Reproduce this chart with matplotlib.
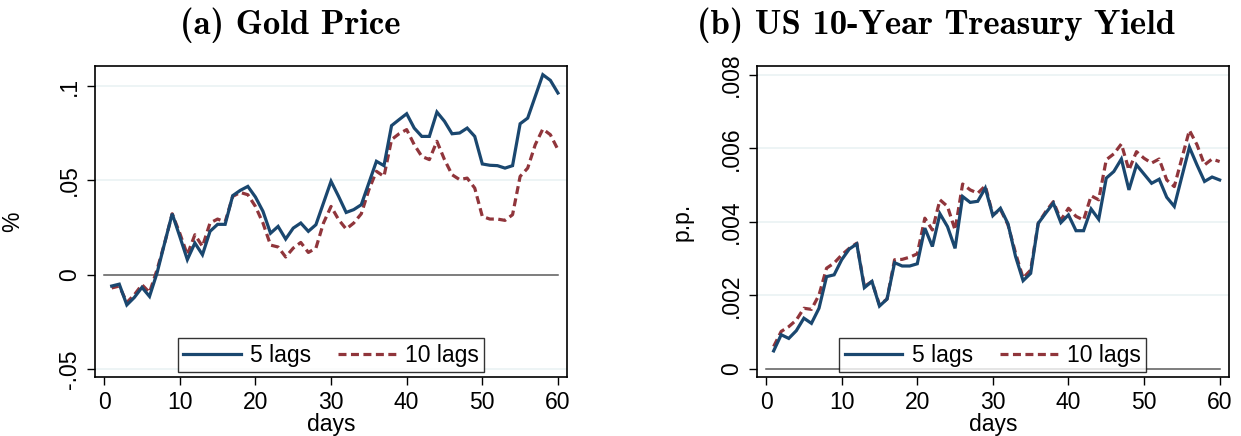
import matplotlib
matplotlib.use("Agg")
import matplotlib.pyplot as plt
from matplotlib.ticker import FuncFormatter, FixedLocator

# Impulse responses over a 60-day horizon
days = list(range(1, 61))

gold_5lags = [
    -0.0060, -0.0050, -0.0160, -0.0120, -0.0067, -0.0115, 0.0010, 0.0168, 0.0323, 0.0203,
    0.0080, 0.0168, 0.0106, 0.0230, 0.0267, 0.0267, 0.0419, 0.0447, 0.0468, 0.0412,
    0.0336, 0.0220, 0.0256, 0.0189, 0.0247, 0.0274, 0.0230, 0.0265, 0.0380, 0.0495,
    0.0415, 0.0330, 0.0345, 0.0371, 0.0486, 0.0601, 0.0578, 0.0790, 0.0822, 0.0853,
    0.0777, 0.0733, 0.0733, 0.0862, 0.0813, 0.0747, 0.0751, 0.0777, 0.0733, 0.0587,
    0.0580, 0.0578, 0.0565, 0.0578, 0.0800, 0.0830, 0.0945, 0.1060, 0.1030, 0.0963,
]
gold_10lags = [
    -0.0070, -0.0060, -0.0147, -0.0106, -0.0053, -0.0094, 0.0027, 0.0168, 0.0323, 0.0220,
    0.0106, 0.0212, 0.0150, 0.0274, 0.0295, 0.0280, 0.0415, 0.0436, 0.0424, 0.0362,
    0.0274, 0.0157, 0.0147, 0.0094, 0.0141, 0.0171, 0.0118, 0.0141, 0.0274, 0.0362,
    0.0292, 0.0242, 0.0274, 0.0323, 0.0450, 0.0548, 0.0521, 0.0716, 0.0747, 0.0769,
    0.0689, 0.0627, 0.0610, 0.0707, 0.0610, 0.0530, 0.0504, 0.0512, 0.0459, 0.0309,
    0.0295, 0.0295, 0.0288, 0.0318, 0.0521, 0.0565, 0.0689, 0.0772, 0.0742, 0.0663,
]

yield_5lags = [
    0.00049, 0.00093, 0.00083, 0.00104, 0.00138, 0.00124, 0.00165, 0.00251, 0.00256, 0.00297,
    0.00326, 0.00340, 0.00221, 0.00238, 0.00171, 0.00190, 0.00289, 0.00280, 0.00280, 0.00286,
    0.00383, 0.00333, 0.00422, 0.00387, 0.00328, 0.00469, 0.00453, 0.00456, 0.00492, 0.00417,
    0.00437, 0.00395, 0.00306, 0.00240, 0.00260, 0.00396, 0.00424, 0.00451, 0.00398, 0.00419,
    0.00376, 0.00376, 0.00435, 0.00407, 0.00519, 0.00537, 0.00571, 0.00487, 0.00555, 0.00530,
    0.00505, 0.00516, 0.00467, 0.00442, 0.00523, 0.00603, 0.00555, 0.00510, 0.00522, 0.00514,
]
yield_10lags = [
    0.00061, 0.00102, 0.00115, 0.00133, 0.00165, 0.00162, 0.00201, 0.00274, 0.00288, 0.00310,
    0.00328, 0.00342, 0.00224, 0.00238, 0.00174, 0.00190, 0.00297, 0.00298, 0.00304, 0.00313,
    0.00410, 0.00378, 0.00460, 0.00442, 0.00378, 0.00503, 0.00487, 0.00478, 0.00498, 0.00419,
    0.00434, 0.00392, 0.00315, 0.00247, 0.00269, 0.00396, 0.00428, 0.00455, 0.00405, 0.00437,
    0.00415, 0.00405, 0.00471, 0.00460, 0.00569, 0.00585, 0.00612, 0.00541, 0.00591, 0.00573,
    0.00560, 0.00571, 0.00514, 0.00496, 0.00573, 0.00649, 0.00610, 0.00555, 0.00571, 0.00564,
]

x_ticks = [0, 10, 20, 30, 40, 50, 60]
gold_yticks = [-0.05, 0, 0.05, 0.1]
yield_yticks = [0, 0.002, 0.004, 0.006, 0.008]
series_labels = ["5 lags", "10 lags"]
titles = ["(a) Gold Price", "(b) US 10-Year Treasury Yield"]
ylabels = ["%", "p.p."]

NAVY = "#1a476f"
MAROON = "#90353b"
GRID = "#eaf2f3"
SANS = ["Liberation Sans", "DejaVu Sans"]
FS = 16.5


def stata_num(v, _pos=None):
    """Format numbers without a leading zero, e.g. .05 and -.05."""
    if abs(v) < 1e-12:
        return "0"
    s = ("%.3f" % v).rstrip("0").rstrip(".")
    s = s.replace("0.", ".", 1) if s.startswith("0.") else s.replace("-0.", "-.", 1)
    return s


fig = plt.figure(figsize=(12.41, 4.36), dpi=100)
ax_l = fig.add_axes([0.0766, 0.1353, 0.3803, 0.7133])
ax_r = fig.add_axes([0.6100, 0.1353, 0.3801, 0.7133])

panels = [
    (ax_l, gold_5lags, gold_10lags, gold_yticks, (-0.0542, 0.1106), -0.150),
    (ax_r, yield_5lags, yield_10lags, yield_yticks, (-0.00022, 0.00824), -0.134),
]

for i, (ax, s5, s10, yt, ylim, ylab_x) in enumerate(panels):
    for yv in yt:
        if yv != 0:
            ax.axhline(yv, color=GRID, lw=1.2, zorder=0)
    ax.plot([0, 60], [0, 0], color="#5a5a5a", lw=1.1, zorder=1)
    ax.plot(days, s5, color=NAVY, lw=2.3, label=series_labels[0], zorder=3,
            solid_joinstyle="miter")
    ax.plot(days, s10, color=MAROON, lw=2.3, ls=(0, (2.5, 1.4)),
            label=series_labels[1], zorder=2)

    ax.set_xlim(-1.2, 61.2)
    ax.set_ylim(*ylim)
    ax.xaxis.set_major_locator(FixedLocator(x_ticks))
    ax.yaxis.set_major_locator(FixedLocator(yt))
    ax.yaxis.set_major_formatter(FuncFormatter(stata_num))
    ax.tick_params(axis="both", direction="out", length=6, width=1.0,
                   labelsize=FS, pad=4, color="black")
    for lab in ax.get_yticklabels():
        lab.set_rotation(90)
        lab.set_verticalalignment("center")
        lab.set_family(SANS)
    for lab in ax.get_xticklabels():
        lab.set_family(SANS)
    for sp in ax.spines.values():
        sp.set_linewidth(1.2)
        sp.set_color("black")

    ax.set_xlabel("days", fontsize=FS, family=SANS, labelpad=-1)
    ax.set_ylabel(ylabels[i], fontsize=FS, family=SANS)
    ax.yaxis.set_label_coords(ylab_x, 0.5)

    leg = ax.legend(loc="lower center", bbox_to_anchor=(0.5, 0.0), ncol=2,
                    frameon=True, fancybox=False, prop={"family": SANS, "size": FS},
                    handlelength=2.5, handletextpad=0.4, columnspacing=1.2,
                    borderpad=0.25, borderaxespad=0.2)
    leg.get_frame().set_edgecolor("black")
    leg.get_frame().set_linewidth(1.0)

fig.text(0.2335, 0.942, titles[0], ha="center", va="center",
         fontsize=25, family=["cmb10", "DejaVu Serif"])
fig.text(0.7545, 0.942, titles[1], ha="center", va="center",
         fontsize=25, family=["cmb10", "DejaVu Serif"])

fig.savefig("out.png", dpi=100)
